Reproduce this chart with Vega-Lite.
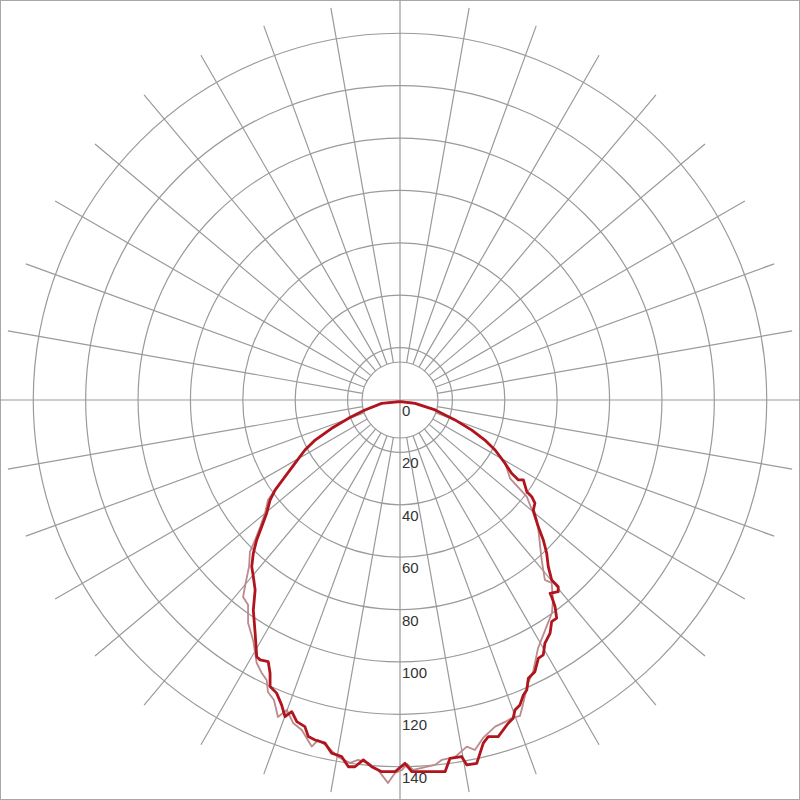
{
  "$schema": "https://vega.github.io/schema/vega-lite/v6.json",
  "width": 800,
  "height": 800,
  "autosize": {"type": "none"},
  "padding": 0,
  "background": "white",
  "config": {"view": {"stroke": "#a8a8a8", "strokeWidth": 2}},
  "datasets": {
    "circles": [{"r": 14.5}, {"r": 20}, {"r": 40}, {"r": 60}, {"r": 80}, {"r": 100}, {"r": 120}, {"r": 140}],
    "spokes": [
      {"a": 0, "r0": 0, "r1": 152.7}, {"a": 10, "r0": 14.5, "r1": 152}, {"a": 20, "r0": 14.5, "r1": 152}, {"a": 30, "r0": 14.5, "r1": 152},
      {"a": 40, "r0": 14.5, "r1": 152}, {"a": 50, "r0": 14.5, "r1": 152}, {"a": 60, "r0": 14.5, "r1": 152}, {"a": 70, "r0": 14.5, "r1": 152},
      {"a": 80, "r0": 14.5, "r1": 152}, {"a": 90, "r0": 0, "r1": 152.7}, {"a": 100, "r0": 14.5, "r1": 152}, {"a": 110, "r0": 14.5, "r1": 152},
      {"a": 120, "r0": 14.5, "r1": 152}, {"a": 130, "r0": 14.5, "r1": 152}, {"a": 140, "r0": 14.5, "r1": 152}, {"a": 150, "r0": 14.5, "r1": 152},
      {"a": 160, "r0": 14.5, "r1": 152}, {"a": 170, "r0": 14.5, "r1": 152}, {"a": 180, "r0": 0, "r1": 152.7}, {"a": 190, "r0": 14.5, "r1": 152},
      {"a": 200, "r0": 14.5, "r1": 152}, {"a": 210, "r0": 14.5, "r1": 152}, {"a": 220, "r0": 14.5, "r1": 152}, {"a": 230, "r0": 14.5, "r1": 152},
      {"a": 240, "r0": 14.5, "r1": 152}, {"a": 250, "r0": 14.5, "r1": 152}, {"a": 260, "r0": 14.5, "r1": 152}, {"a": 270, "r0": 0, "r1": 152.7},
      {"a": 280, "r0": 14.5, "r1": 152}, {"a": 290, "r0": 14.5, "r1": 152}, {"a": 300, "r0": 14.5, "r1": 152}, {"a": 310, "r0": 14.5, "r1": 152},
      {"a": 320, "r0": 14.5, "r1": 152}, {"a": 330, "r0": 14.5, "r1": 152}, {"a": 340, "r0": 14.5, "r1": 152}, {"a": 350, "r0": 14.5, "r1": 152}
    ],
    "labels": [
      {"lab": "0", "v": 0}, {"lab": "20", "v": 20}, {"lab": "40", "v": 40}, {"lab": "60", "v": 60},
      {"lab": "80", "v": 80}, {"lab": "100", "v": 100}, {"lab": "120", "v": 120}, {"lab": "140", "v": 140}
    ],
    "light": [
      {"i": 1, "h": 0, "v": 0.4}, {"i": 2, "h": -7.0, "v": 1.3}, {"i": 3, "h": -13.4, "v": 4.0}, {"i": 4, "h": -19.7, "v": 7.2},
      {"i": 5, "h": -26.1, "v": 11.0}, {"i": 6, "h": -32.4, "v": 15.5}, {"i": 7, "h": -36.3, "v": 19.3}, {"i": 8, "h": -40.1, "v": 24.0},
      {"i": 9, "h": -43.9, "v": 29.0}, {"i": 10, "h": -47.7, "v": 34.4}, {"i": 11, "h": -50.4, "v": 38.2}, {"i": 12, "h": -51.5, "v": 43.1},
      {"i": 13, "h": -53.4, "v": 48.5}, {"i": 14, "h": -55.3, "v": 53.4}, {"i": 15, "h": -57.3, "v": 58.0}, {"i": 16, "h": -57.6, "v": 63.4},
      {"i": 17, "h": -59.2, "v": 71.3}, {"i": 18, "h": -59.9, "v": 75.2}, {"i": 19, "h": -58.0, "v": 78.2}, {"i": 20, "h": -58.0, "v": 85.1},
      {"i": 21, "h": -56.1, "v": 91.6}, {"i": 22, "h": -54.7, "v": 100.4}, {"i": 23, "h": -52.8, "v": 104.2}, {"i": 24, "h": -50.9, "v": 106.9},
      {"i": 25, "h": -50.4, "v": 111.5}, {"i": 26, "h": -48.1, "v": 114.5}, {"i": 27, "h": -46.6, "v": 121.0}, {"i": 28, "h": -43.2, "v": 118.3},
      {"i": 29, "h": -40.8, "v": 123.3}, {"i": 30, "h": -37.5, "v": 126.0}, {"i": 31, "h": -33.7, "v": 132.3}, {"i": 32, "h": -31.3, "v": 129.8},
      {"i": 33, "h": -27.5, "v": 132.4}, {"i": 34, "h": -23.7, "v": 136.3}, {"i": 35, "h": -19.1, "v": 138.5}, {"i": 36, "h": -16.0, "v": 137.4},
      {"i": 37, "h": -12.2, "v": 138.5}, {"i": 38, "h": -8.4, "v": 141.2}, {"i": 39, "h": -4.6, "v": 146.2}, {"i": 40, "h": -1.9, "v": 142.4},
      {"i": 41, "h": 0.8, "v": 141.2}, {"i": 42, "h": 2.7, "v": 138.9}, {"i": 43, "h": 5.0, "v": 141.2}, {"i": 44, "h": 13.4, "v": 139.3},
      {"i": 45, "h": 15.9, "v": 137.4}, {"i": 46, "h": 21.0, "v": 136.3}, {"i": 47, "h": 25.5, "v": 132.3}, {"i": 48, "h": 28.6, "v": 133.6},
      {"i": 49, "h": 31.7, "v": 129.0}, {"i": 50, "h": 36.3, "v": 124.7}, {"i": 51, "h": 40.1, "v": 122.9}, {"i": 52, "h": 42.7, "v": 121.4},
      {"i": 53, "h": 45.8, "v": 120.6}, {"i": 54, "h": 46.9, "v": 116.4}, {"i": 55, "h": 48.9, "v": 108.0}, {"i": 56, "h": 50.8, "v": 103.8},
      {"i": 57, "h": 52.7, "v": 94.7}, {"i": 58, "h": 56.5, "v": 85.1}, {"i": 59, "h": 58.0, "v": 81.3}, {"i": 60, "h": 58.4, "v": 76.3},
      {"i": 61, "h": 57.9, "v": 69.8}, {"i": 62, "h": 55.3, "v": 68.7}, {"i": 63, "h": 54.1, "v": 61.1}, {"i": 64, "h": 52.7, "v": 48.5},
      {"i": 65, "h": 50.4, "v": 42.0}, {"i": 66, "h": 48.4, "v": 36.9}, {"i": 67, "h": 42.0, "v": 29.9}, {"i": 68, "h": 40.1, "v": 24.0},
      {"i": 69, "h": 36.3, "v": 19.1}, {"i": 70, "h": 32.4, "v": 15.3}, {"i": 71, "h": 27.4, "v": 11.5}, {"i": 72, "h": 21.0, "v": 7.6},
      {"i": 73, "h": 13.4, "v": 3.8}, {"i": 74, "h": 5.7, "v": 1.1}, {"i": 75, "h": 0, "v": 0.4}
    ],
    "dark": [
      {"i": 1, "h": 0, "v": 0.6}, {"i": 2, "h": -7.0, "v": 1.3}, {"i": 3, "h": -13.4, "v": 3.8}, {"i": 4, "h": -19.7, "v": 7.0},
      {"i": 5, "h": -26.1, "v": 10.8}, {"i": 6, "h": -32.4, "v": 15.3}, {"i": 7, "h": -36.3, "v": 19.1}, {"i": 8, "h": -40.1, "v": 24.2},
      {"i": 9, "h": -43.9, "v": 29.3}, {"i": 10, "h": -47.7, "v": 34.4}, {"i": 11, "h": -49.6, "v": 38.2}, {"i": 12, "h": -50.9, "v": 43.2},
      {"i": 13, "h": -52.8, "v": 48.4}, {"i": 14, "h": -54.7, "v": 53.4}, {"i": 15, "h": -56.0, "v": 58.5}, {"i": 16, "h": -56.6, "v": 63.6},
      {"i": 17, "h": -56.0, "v": 67.4}, {"i": 18, "h": -55.3, "v": 72.5}, {"i": 19, "h": -56.0, "v": 80.2}, {"i": 20, "h": -55.3, "v": 89.0},
      {"i": 21, "h": -54.7, "v": 98.0}, {"i": 22, "h": -53.4, "v": 99.2}, {"i": 23, "h": -50.3, "v": 99.9}, {"i": 24, "h": -49.6, "v": 104.3},
      {"i": 25, "h": -49.6, "v": 109.4}, {"i": 26, "h": -47.1, "v": 111.9}, {"i": 27, "h": -45.2, "v": 116.4}, {"i": 28, "h": -43.9, "v": 120.9},
      {"i": 29, "h": -41.3, "v": 119.0}, {"i": 30, "h": -39.4, "v": 122.8}, {"i": 31, "h": -36.3, "v": 124.7}, {"i": 32, "h": -35.0, "v": 128.5},
      {"i": 33, "h": -32.4, "v": 129.8}, {"i": 34, "h": -28.6, "v": 131.0}, {"i": 35, "h": -26.1, "v": 134.8}, {"i": 36, "h": -22.3, "v": 136.1},
      {"i": 37, "h": -19.7, "v": 140.0}, {"i": 38, "h": -17.2, "v": 140.0}, {"i": 39, "h": -14.0, "v": 137.4}, {"i": 40, "h": -10.8, "v": 140.0},
      {"i": 41, "h": -7.0, "v": 141.9}, {"i": 42, "h": -1.9, "v": 141.9}, {"i": 43, "h": 1.9, "v": 138.7}, {"i": 44, "h": 4.5, "v": 141.9},
      {"i": 45, "h": 17.2, "v": 141.9}, {"i": 46, "h": 19.1, "v": 136.8}, {"i": 47, "h": 23.5, "v": 136.1}, {"i": 48, "h": 25.5, "v": 139.3},
      {"i": 49, "h": 29.3, "v": 138.7}, {"i": 50, "h": 31.8, "v": 131.0}, {"i": 51, "h": 33.7, "v": 128.5}, {"i": 52, "h": 37.5, "v": 128.5},
      {"i": 53, "h": 41.3, "v": 123.4}, {"i": 54, "h": 43.2, "v": 121.5}, {"i": 55, "h": 43.9, "v": 118.3}, {"i": 56, "h": 45.8, "v": 116.4},
      {"i": 57, "h": 47.1, "v": 112.6}, {"i": 58, "h": 48.4, "v": 110.7}, {"i": 59, "h": 49.0, "v": 106.2}, {"i": 60, "h": 51.5, "v": 103.7},
      {"i": 61, "h": 52.8, "v": 98.6}, {"i": 62, "h": 54.7, "v": 97.3}, {"i": 63, "h": 55.3, "v": 92.9}, {"i": 64, "h": 57.3, "v": 89.0},
      {"i": 65, "h": 57.9, "v": 84.6}, {"i": 66, "h": 59.8, "v": 83.3}, {"i": 67, "h": 59.2, "v": 78.9}, {"i": 68, "h": 57.9, "v": 75.1},
      {"i": 69, "h": 57.3, "v": 73.8}, {"i": 70, "h": 60.4, "v": 73.2}, {"i": 71, "h": 60.4, "v": 71.3}, {"i": 72, "h": 57.9, "v": 68.7},
      {"i": 73, "h": 56.6, "v": 63.6}, {"i": 74, "h": 56.0, "v": 58.5}, {"i": 75, "h": 54.7, "v": 53.4}, {"i": 76, "h": 52.8, "v": 48.4},
      {"i": 77, "h": 50.9, "v": 42.0}, {"i": 78, "h": 51.5, "v": 39.4}, {"i": 79, "h": 50.3, "v": 36.9}, {"i": 80, "h": 48.4, "v": 35.0},
      {"i": 81, "h": 47.1, "v": 30.5}, {"i": 82, "h": 45.2, "v": 30.5}, {"i": 83, "h": 42.6, "v": 28.0}, {"i": 84, "h": 40.1, "v": 24.2},
      {"i": 85, "h": 36.3, "v": 19.1}, {"i": 86, "h": 32.4, "v": 15.3}, {"i": 87, "h": 27.4, "v": 11.5}, {"i": 88, "h": 21.0, "v": 7.6},
      {"i": 89, "h": 13.4, "v": 3.8}, {"i": 90, "h": 5.7, "v": 1.3}, {"i": 91, "h": 0, "v": 0.6}
    ]
  },
  "layer": [
    {
      "data": {"name": "circles"},
      "mark": {"type": "arc", "filled": false, "stroke": "#9a9a9a", "strokeWidth": 1.2},
      "encoding": {
        "theta": {"value": 0},
        "theta2": {"value": 6.2832},
        "radius": {"field": "r", "type": "quantitative", "stack": null, "scale": {"type": "linear", "domain": [0, 152.7], "range": [0, 400], "zero": true, "nice": false}}
      }
    },
    {
      "data": {"name": "spokes"},
      "mark": {"type": "arc", "filled": false, "stroke": "#9a9a9a", "strokeWidth": 1.2},
      "encoding": {
        "theta": {"field": "a", "type": "quantitative", "stack": null, "scale": {"type": "linear", "domain": [0, 360], "range": [0, 6.283185], "nice": false, "zero": true}},
        "theta2": {"field": "a"},
        "radius": {"field": "r1", "type": "quantitative", "stack": null},
        "radius2": {"field": "r0"}
      }
    },
    {
      "data": {"name": "labels"},
      "mark": {"type": "text", "align": "left", "baseline": "middle", "dx": 2, "dy": 11, "font": "Liberation Sans", "fontSize": 15, "color": "#333333"},
      "encoding": {
        "x": {"datum": 0, "type": "quantitative", "scale": {"domain": [-152.7, 152.7], "nice": false, "zero": false}, "axis": null},
        "y": {"field": "v", "type": "quantitative", "scale": {"domain": [-152.7, 152.7], "nice": false, "zero": false, "reverse": true}, "axis": null},
        "text": {"field": "lab", "type": "nominal"}
      }
    },
    {
      "data": {"name": "light"},
      "mark": {"type": "line", "color": "#bb8a8c", "strokeWidth": 1.8, "strokeJoin": "round"},
      "encoding": {
        "x": {"field": "h", "type": "quantitative"},
        "y": {"field": "v", "type": "quantitative"},
        "order": {"field": "i", "type": "quantitative"}
      }
    },
    {
      "data": {"name": "dark"},
      "mark": {"type": "line", "color": "#b0141c", "strokeWidth": 2.8, "strokeJoin": "round"},
      "encoding": {
        "x": {"field": "h", "type": "quantitative"},
        "y": {"field": "v", "type": "quantitative"},
        "order": {"field": "i", "type": "quantitative"}
      }
    }
  ]
}
